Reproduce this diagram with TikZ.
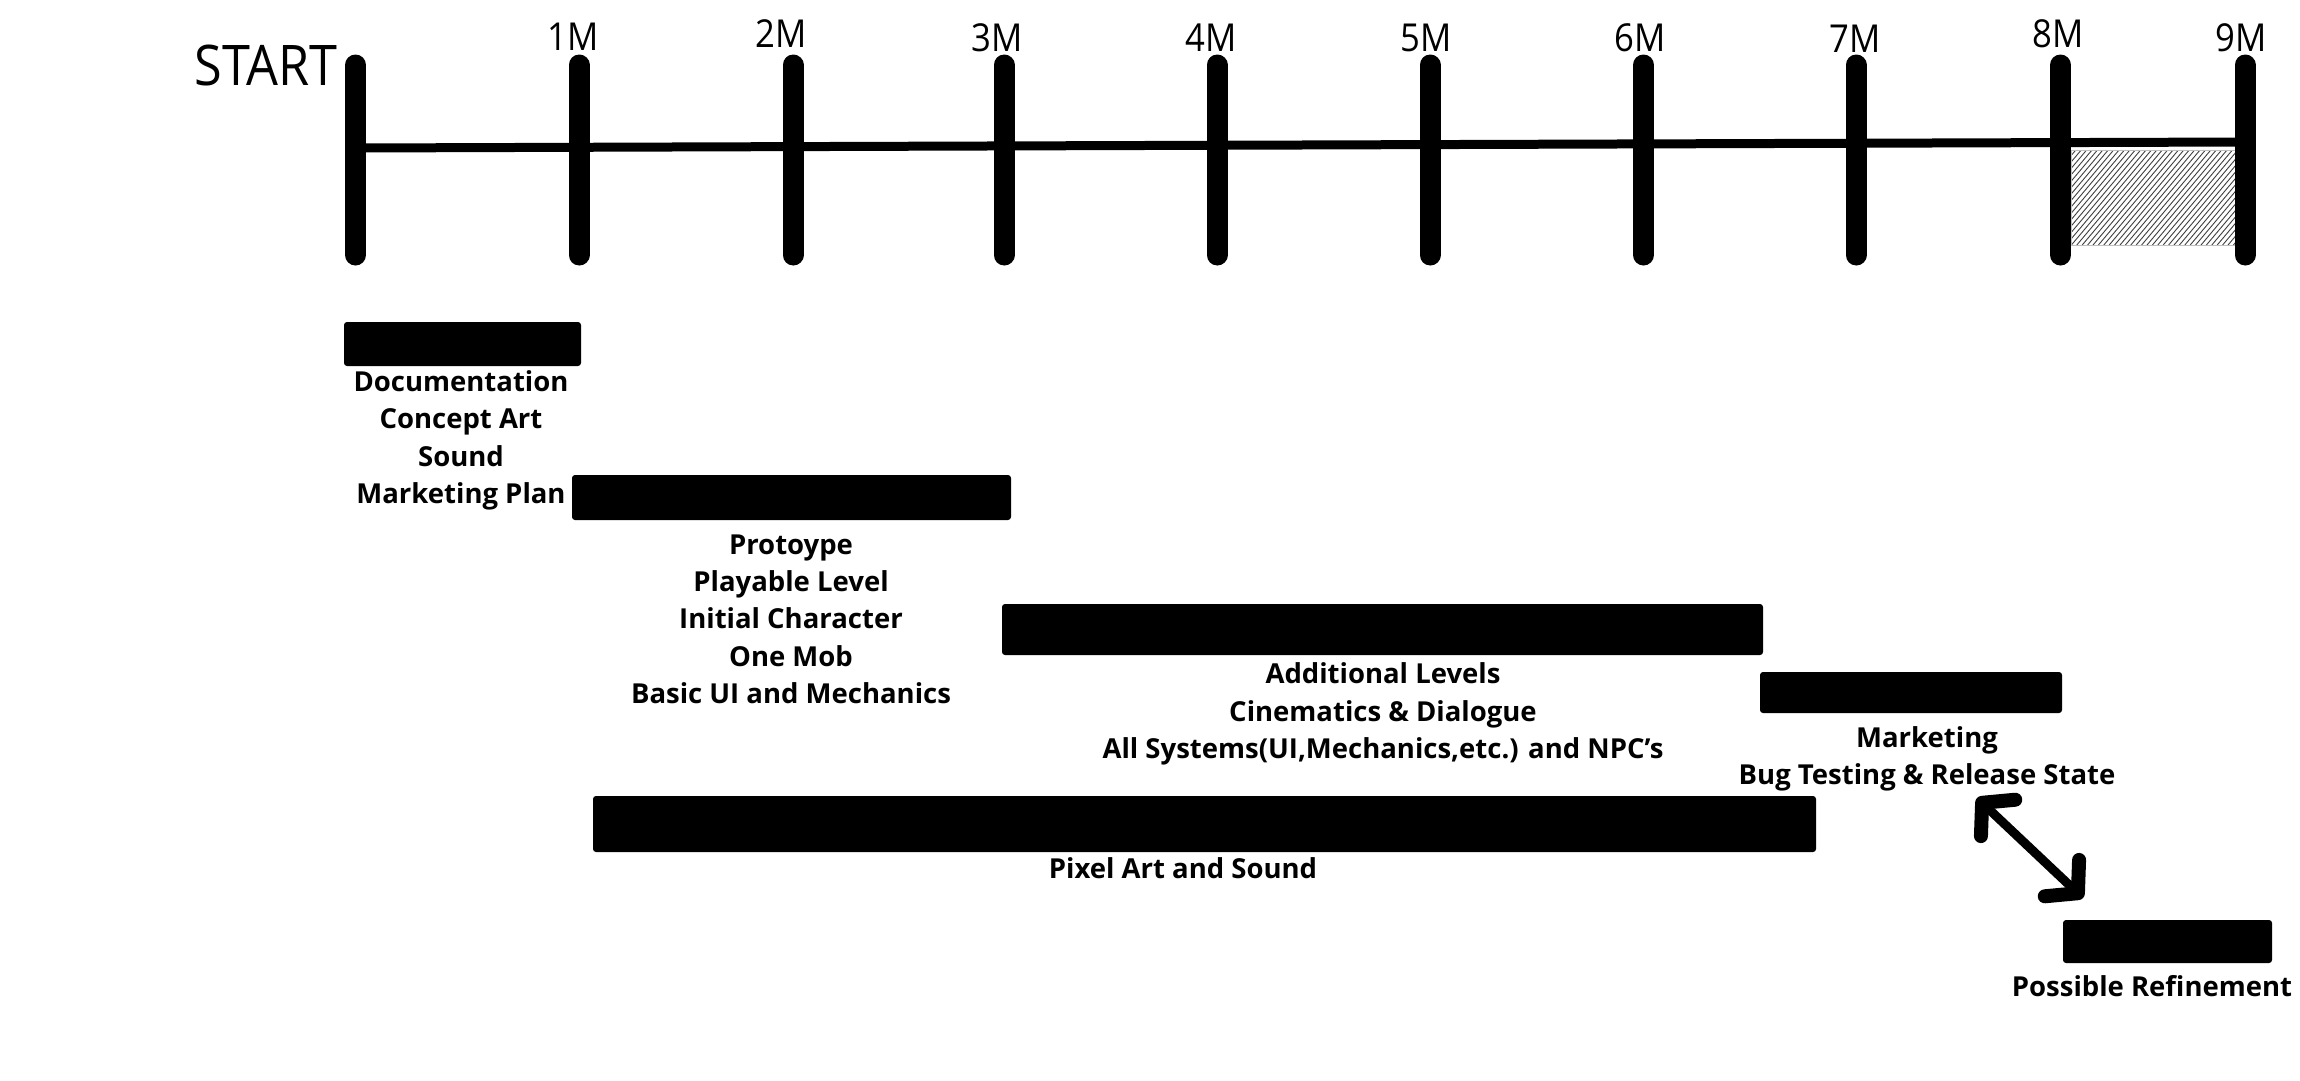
\documentclass[tikz,border=0pt]{standalone}
\usepackage{fontspec}
\setmainfont{Open Sans}
\newfontfamily\axisfont[FakeStretch=0.9]{Open Sans}
\usetikzlibrary{arrows.meta}
\begin{document}
\begin{tikzpicture}[x=1pt,y=-1pt,
  tickline/.style={line width=21pt, line cap=round},
  axisline/.style={line width=9pt},
  bar/.style={fill=black, draw=none, rounded corners=3pt, inner sep=0pt, outer sep=0pt},
  lab/.style={font=\fontsize{27.5}{33}\selectfont\bfseries, anchor=base, inner sep=0pt},
  month/.style={font=\axisfont\fontsize{38.5}{42}\selectfont, anchor=base, inner sep=0pt},
  hatchline/.style={black!75, line width=0.9pt},
  dblarrow/.style={line width=9pt,
    {Straight Barb[length=22pt,width=50pt,line width=14pt,round]}-{Straight Barb[length=22pt,width=50pt,line width=14pt,round]}},
]
\useasboundingbox (0,0) rectangle (2300,1080);
\fill[white] (0,0) rectangle (2300,1080);

% hatched area between 8M and 9M
\begin{scope}
  \clip (2071,150) rectangle (2235,245);
  \foreach \i in {0,...,48} {\draw[hatchline] (1985+\i*5.4,245) -- ++(80,-95);}
\end{scope}
\draw[black!25, line width=0.5pt] (2071,150) rectangle (2235,245);

% axis
\draw[axisline] (355,148) -- (2245,142);
\foreach \x in {355.5,579,793,1004,1217,1430,1643.5,1856,2060.5,2245}
  {\draw[tickline] (\x,65) -- (\x,255);}

% labels on axis
\node[font=\axisfont\fontsize{56}{60}\selectfont, anchor=base, inner sep=0pt] (start) at (266,85) {START};
\node[month] (m1) at (573,50) {1M};
\node[month] (m2) at (781,47) {2M};
\node[month] (m3) at (997,51) {3M};
\node[month] (m4) at (1211,51) {4M};
\node[month] (m5) at (1426,51) {5M};
\node[month] (m6) at (1640,51) {6M};
\node[month] (m7) at (1855,52) {7M};
\node[month] (m8) at (2058,47) {8M};
\node[month] (m9) at (2241,51) {9M};

% bars
\node[bar, minimum width=237pt, minimum height=44pt] (docbar) at (462.5,344) {};
\node[bar, minimum width=439pt, minimum height=45pt] (protobar) at (791.5,497.5) {};
\node[bar, minimum width=761pt, minimum height=51pt] (addbar) at (1382.5,629.5) {};
\node[bar, minimum width=302pt, minimum height=41pt] (mktbar) at (1911,692.5) {};
\node[bar, minimum width=1223pt, minimum height=56pt] (pixbar) at (1204.5,824) {};
\node[bar, minimum width=209pt, minimum height=43pt] (refbar) at (2167.5,941.5) {};

% texts
\node[lab] (doc1) at (461,391.5) {Documentation};
\node[lab] (doc2) at (461,428.5) {Concept Art};
\node[lab] (doc3) at (461,466) {Sound};
\node[lab] (doc4) at (461,503) {Marketing Plan};

\node[lab] (pro1) at (791,554) {Protoype};
\node[lab] (pro2) at (791,591) {Playable Level};
\node[lab] (pro3) at (791,628) {Initial Character};
\node[lab] (pro4) at (791,666) {One Mob};
\node[lab] (pro5) at (791,703) {Basic UI and Mechanics};

\node[lab] (add1) at (1383,683) {Additional Levels};
\node[lab] (add2) at (1383,721) {Cinematics \& Dialogue};
\node[lab] (add3) at (1383,758) {All Systems(UI,Mechanics,etc.) and NPC’s};

\node[lab] (mkt1) at (1927,747) {Marketing};
\node[lab] (mkt2) at (1927,784) {Bug Testing \& Release State};

\node[lab] (pix1) at (1183,878) {Pixel Art and Sound};

\node[lab] (ref1) at (2152,996) {Possible Refinement};

% double arrow
\coordinate (arrA) at (1977,798);
\coordinate (arrB) at (2083,898);
\draw[dblarrow] (arrA) -- (arrB);
\end{tikzpicture}
\end{document}
